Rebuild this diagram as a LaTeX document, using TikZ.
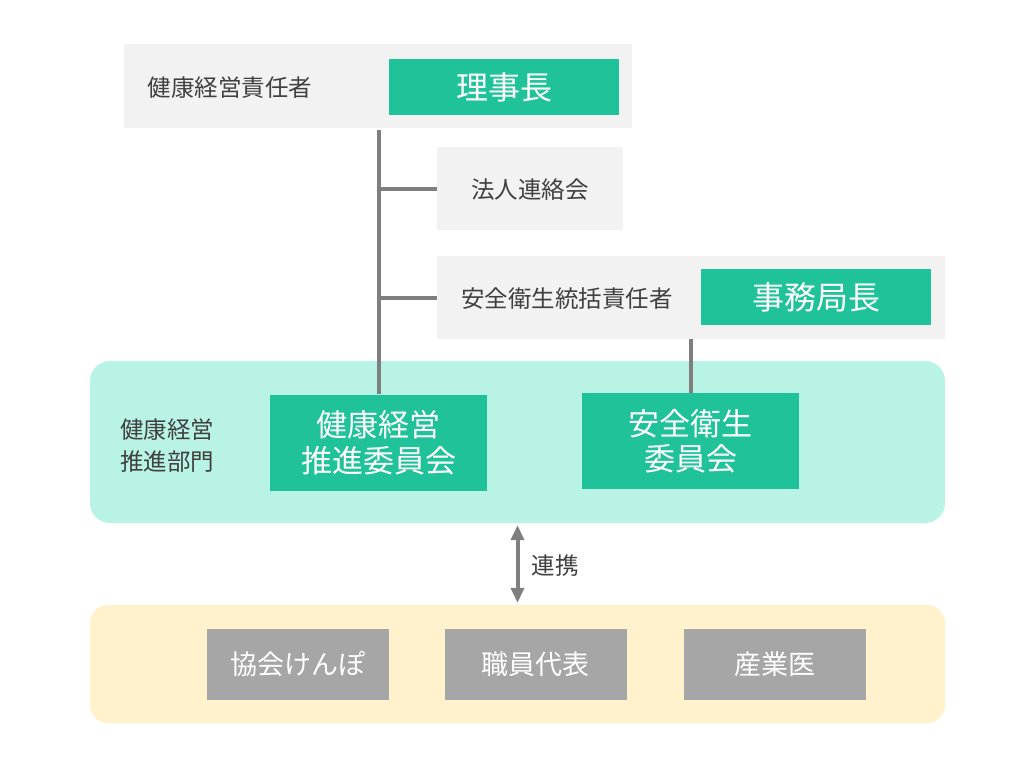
\documentclass[tikz,border=0pt]{standalone}
\usepackage{fontspec}
\setmainfont{Noto Sans CJK JP}
\usetikzlibrary{arrows.meta}
\definecolor{boxgreen}{HTML}{20C29A}
\definecolor{panelteal}{HTML}{B8F3E6}
\definecolor{panelyellow}{HTML}{FFF2CC}
\definecolor{boxlight}{HTML}{F2F2F2}
\definecolor{boxgray}{HTML}{A6A6A6}
\definecolor{linegray}{HTML}{7F7F7F}
\definecolor{textdark}{HTML}{404040}
\begin{document}
\begin{tikzpicture}[x=1pt,y=-1pt]
				\tikzstyle{Light} = [fill=boxlight, inner sep=0pt]
				\tikzstyle{Head} = [fill=boxgreen, text=white, minimum width=230, minimum height=56, inner sep=0pt, font=\fontsize{32}{36}\selectfont]
				\tikzstyle{Board} = [fill=boxgreen, text=white, minimum width=217, minimum height=96, inner sep=0pt, align=center, font=\fontsize{31}{35.5}\selectfont]
				\tikzstyle{Member} = [fill=boxgray, text=white, minimum width=182, minimum height=71, inner sep=0pt, font=\fontsize{27}{30}\selectfont]
				\tikzstyle{Label} = [text=textdark, inner sep=0pt, font=\fontsize{23.5}{32}\selectfont]
				\tikzstyle{Link} = [draw=linegray, line width=4pt]
				\useasboundingbox (0,0) rectangle (1024,768);
				\fill[white] (0,0) rectangle (1024,768);
				% panels
				\node (teal) at (517.5,442) [fill=panelteal, rounded corners=20, minimum width=855, minimum height=162, inner sep=0pt] {};
				\node (yellow) at (517.5,664) [fill=panelyellow, rounded corners=18, minimum width=855, minimum height=118, inner sep=0pt] {};
				% top rows
				\node (top) at (378,86) [Light, minimum width=508, minimum height=84] {};
				\node (chief) at (230,88) [Label] {健康経営責任者};
				\node (rijicho) at (504,87) [Head] {理事長};
				\node (hojin) at (530,188.5) [Light, minimum width=186, minimum height=83] {};
				\node (hojintext) at (530,190) [Label] {法人連絡会};
				\node (anzen) at (691,297.5) [Light, minimum width=508, minimum height=83] {};
				\node (anzentext) at (567,299) [Label] {安全衛生統括責任者};
				\node (jimu) at (816,297) [Head] {事務局長};
				% committees
				\node (dept) at (167,446) [Label, align=left] {健康経営\\推進部門};
				\node (kenkou) at (378.5,442.5) [Board] {健康経営\\推進委員会};
				\node (eisei) at (690.5,441) [Board] {安全衛生\\委員会};
				% members
				\node (kyokai) at (297.5,664.5) [Member] {協会けんぽ};
				\node (shokuin) at (535.5,664.5) [Member] {職員代表};
				\node (sangyo) at (775,664.5) [Member] {産業医};
				% connectors
				\draw [Link] (kenkou.north |- top.south) ++(0,2) to (kenkou.north);
				\draw [Link] (hojin.west) to (hojin.west -| kenkou.north);
				\draw [Link] (anzen.west) to (anzen.west -| kenkou.north);
				\draw [Link] (eisei.north |- anzen.south) to (eisei.north);
				\draw [Link, {Triangle[length=15pt,width=13pt]}-{Triangle[length=15pt,width=13pt]}, shorten <=2pt, shorten >=2pt] (teal.south) to (yellow.north);
				\node (renkei) at (555,566) [Label] {連携};
\end{tikzpicture}
\end{document}
